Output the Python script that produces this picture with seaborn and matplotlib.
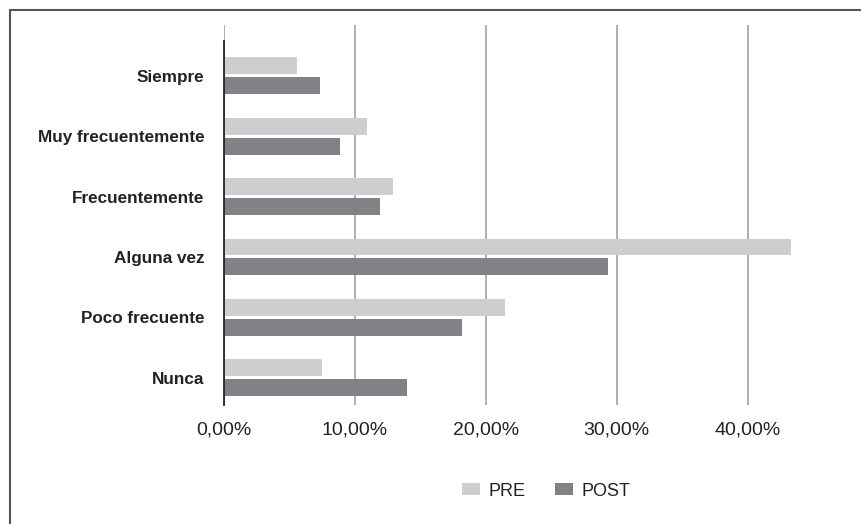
import matplotlib
matplotlib.use("Agg")
import matplotlib.pyplot as plt
import seaborn as sns
import pandas as pd
from matplotlib.lines import Line2D
from matplotlib.patches import Patch
from matplotlib.ticker import FuncFormatter

categories = ["Siempre", "Muy frecuentemente", "Frecuentemente",
              "Alguna vez", "Poco frecuente", "Nunca"]
pre = [5.6, 10.9, 12.9, 43.3, 21.5, 7.5]
post = [7.3, 8.9, 11.9, 29.3, 18.2, 14.0]
series = ["PRE", "POST"]
colors = ["#CDCED0", "#818285"]

df = pd.DataFrame({
    "cat": categories * 2,
    "val": pre + post,
    "serie": ["PRE"] * len(pre) + ["POST"] * len(post),
})

sns.set_theme(style="white")
plt.rcParams["font.family"] = ["Liberation Sans", "DejaVu Sans"]

fig = plt.figure(figsize=(8.62, 5.24), dpi=100)
ax = fig.add_axes([224 / 862, 119 / 524, 589 / 862, 380 / 524])

sns.barplot(data=df, y="cat", x="val", hue="serie", order=categories,
            hue_order=series, palette=colors, orient="h", width=0.66,
            gap=0.15, ax=ax, legend=False, saturation=1, linewidth=0)

ax.set_xlim(0, 45)
ax.set_ylim(5.45, -0.84)
ax.set_xticks([0, 10, 20, 30, 40])
ax.xaxis.set_major_formatter(FuncFormatter(lambda v, p: f"{v:.2f}%".replace(".", ",")))
ax.grid(axis="x", color="#A8A8A8", linewidth=1.3)
ax.set_axisbelow(True)
ax.set_xlabel("")
ax.set_ylabel("")
for s in ["top", "right", "bottom"]:
    ax.spines[s].set_visible(False)
ax.spines["left"].set_color("#222222")
ax.spines["left"].set_linewidth(1.3)
ax.spines["left"].set_bounds(5.45, -0.57)
ax.tick_params(axis="both", length=0, colors="#222222")
ax.tick_params(axis="y", pad=14)
ax.tick_params(axis="x", pad=12)
for t in ax.get_yticklabels():
    t.set_fontsize(12.3)
    t.set_fontweight("bold")
for t in ax.get_xticklabels():
    t.set_fontsize(14)

handles = [Patch(facecolor=c, edgecolor="none") for c in colors]
fig.legend(handles, series, loc="center", bbox_to_anchor=(546 / 862, 1 - 491 / 524),
           ncol=2, frameon=False, fontsize=13, handlelength=1.0, handleheight=0.65,
           columnspacing=1.6, handletextpad=0.5, labelcolor="#222222")

fig.add_artist(Line2D([10 / 862, 10 / 862], [0, 1 - 10 / 524], color="#555555", linewidth=1.5))
fig.add_artist(Line2D([10 / 862, 1], [1 - 10 / 524, 1 - 10 / 524], color="#555555", linewidth=1.5))

fig.savefig("out.png", dpi=100)
